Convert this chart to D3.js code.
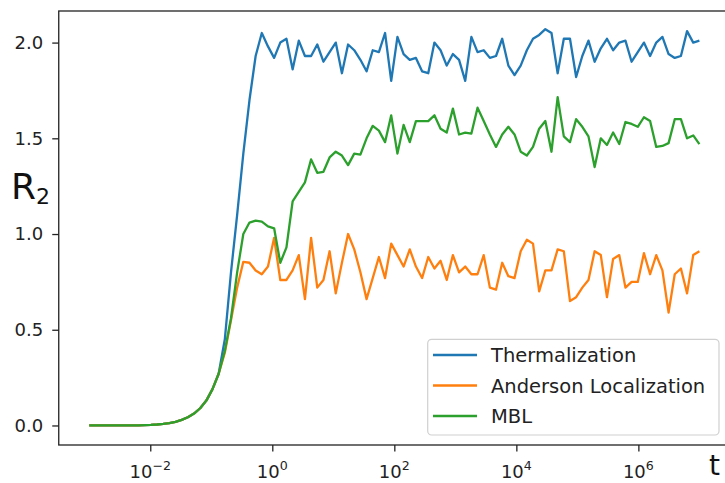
<!DOCTYPE html>
<html>
<head>
<meta charset="utf-8">
<script src="https://cdn.jsdelivr.net/npm/d3@7"></script>
<style>
  body { margin: 0; background: #fff; }
  svg { display: block; font-family: "DejaVu Sans", sans-serif; }
</style>
</head>
<body>
<div id="chart"></div>
<script>
// log10 of the sampled times (100 samples, 1e-3 .. 1e7)
const logTimes = [
  -3.000, -2.899, -2.798, -2.697, -2.596, -2.495, -2.394, -2.293, -2.192, -2.091,
  -1.990, -1.889, -1.788, -1.687, -1.586, -1.485, -1.384, -1.283, -1.182, -1.081,
  -0.980, -0.879, -0.778, -0.677, -0.576, -0.475, -0.374, -0.273, -0.172, -0.071,
  0.030, 0.131, 0.232, 0.333, 0.434, 0.535, 0.636, 0.737, 0.838, 0.939,
  1.040, 1.141, 1.242, 1.343, 1.444, 1.545, 1.646, 1.747, 1.848, 1.949,
  2.051, 2.152, 2.253, 2.354, 2.455, 2.556, 2.657, 2.758, 2.859, 2.960,
  3.061, 3.162, 3.263, 3.364, 3.465, 3.566, 3.667, 3.768, 3.869, 3.970,
  4.071, 4.172, 4.273, 4.374, 4.475, 4.576, 4.677, 4.778, 4.879, 4.980,
  5.081, 5.182, 5.283, 5.384, 5.485, 5.586, 5.687, 5.788, 5.889, 5.990,
  6.091, 6.192, 6.293, 6.394, 6.495, 6.596, 6.697, 6.798, 6.899, 7.000
];

// all three curves coincide at early times
const earlyRise = [
  0.000, 0.000, 0.000, 0.000, 0.000, 0.000, 0.000, 0.001, 0.001, 0.002,
  0.003, 0.005, 0.008, 0.012, 0.019, 0.029, 0.043, 0.062, 0.090, 0.130,
  0.190, 0.270
];

const thermalization = earlyRise.concat([
  0.45, 0.80, 1.10, 1.42, 1.70, 1.93, 2.05, 1.98,
  1.92, 2.00, 2.02, 1.86, 2.01, 1.93, 1.93, 1.99, 1.90, 1.95,
  2.00, 1.84, 1.99, 1.96, 1.91, 1.85, 1.96, 1.95, 2.05, 1.80,
  2.03, 1.94, 1.91, 1.92, 1.85, 1.84, 2.00, 1.96, 1.88, 1.94,
  1.91, 1.80, 2.03, 1.95, 1.96, 1.92, 1.93, 2.02, 1.88, 1.83,
  1.88, 1.96, 2.02, 2.04, 2.07, 2.05, 1.84, 2.02, 2.02, 1.82,
  1.93, 2.01, 1.90, 1.97, 2.02, 1.96, 2.00, 2.01, 1.90, 1.95,
  2.00, 1.93, 2.00, 2.03, 1.94, 1.92, 1.93, 2.06, 2.00, 2.01
]);

const anderson = earlyRise.concat([
  0.38, 0.55, 0.72, 0.855, 0.85, 0.81, 0.79, 0.83,
  0.98, 0.76, 0.76, 0.81, 0.89, 0.66, 0.98, 0.72, 0.76, 0.91,
  0.69, 0.85, 1.00, 0.92, 0.80, 0.66, 0.77, 0.88, 0.77, 0.95,
  0.89, 0.83, 0.92, 0.83, 0.77, 0.88, 0.82, 0.86, 0.76, 0.89,
  0.80, 0.83, 0.79, 0.79, 0.89, 0.72, 0.71, 0.85, 0.78, 0.77,
  0.91, 0.97, 0.95, 0.70, 0.81, 0.81, 0.92, 0.91, 0.65, 0.67,
  0.72, 0.76, 0.91, 0.89, 0.67, 0.87, 0.89, 0.72, 0.75, 0.75,
  0.90, 0.79, 0.89, 0.81, 0.59, 0.79, 0.82, 0.69, 0.89, 0.91
]);

const mbl = earlyRise.concat([
  0.39, 0.56, 0.80, 1.00, 1.06, 1.07, 1.065, 1.04,
  1.03, 0.85, 0.93, 1.17, 1.22, 1.27, 1.39, 1.32, 1.325, 1.40,
  1.43, 1.41, 1.36, 1.42, 1.415, 1.50, 1.565, 1.54, 1.48, 1.62,
  1.42, 1.57, 1.48, 1.59, 1.59, 1.59, 1.62, 1.55, 1.53, 1.655,
  1.52, 1.53, 1.525, 1.66, 1.59, 1.52, 1.455, 1.52, 1.56, 1.52,
  1.43, 1.41, 1.455, 1.55, 1.59, 1.43, 1.715, 1.51, 1.48, 1.60,
  1.56, 1.51, 1.35, 1.50, 1.465, 1.53, 1.47, 1.585, 1.575, 1.56,
  1.61, 1.59, 1.455, 1.46, 1.475, 1.60, 1.60, 1.50, 1.515, 1.47
]);

const seriesNames = ['Thermalization', 'Anderson Localization', 'MBL'];
const seriesColors = ['#1f77b4', '#ff7f0e', '#2ca02c'];
const yTicks = [0.0, 0.5, 1.0, 1.5, 2.0];
const xTickExponents = [-2, 0, 2, 4, 6];

const width = 725, height = 483;
const frame = { left: 58.75, top: 11, right: 729.9, bottom: 445 };

const svg = d3.select('#chart')
  .append('svg')
  .attr('width', width)
  .attr('height', height);

const x = d3.scaleLog()
  .domain([10 ** -3.5, 10 ** 7.5])
  .range([frame.left, frame.right]);

const y = d3.scaleLinear()
  .domain([-0.102, 2.165])
  .range([frame.bottom, frame.top]);

// y axis
const yAxis = svg.append('g')
  .attr('transform', `translate(${frame.left},0)`)
  .call(d3.axisLeft(y)
    .tickValues(yTicks)
    .tickFormat(d3.format('.1f'))
    .tickSize(6.5)
    .tickPadding(9));
yAxis.select('.domain').remove();
yAxis.selectAll('line').attr('stroke', '#222').attr('stroke-width', 1.3);
yAxis.selectAll('text')
  .attr('fill', '#222')
  .style('font-size', '18px')
  .style('font-family', '"DejaVu Sans", sans-serif');

// x axis, labels drawn as 10^k with a superscript
const xAxis = svg.append('g')
  .attr('transform', `translate(0,${frame.bottom})`)
  .call(d3.axisBottom(x)
    .tickValues(xTickExponents.map(e => 10 ** e))
    .tickFormat('')
    .tickSize(6.5));
xAxis.select('.domain').remove();
xAxis.selectAll('line').attr('stroke', '#222').attr('stroke-width', 1.3);

xTickExponents.forEach(e => {
  const label = svg.append('text')
    .attr('x', x(10 ** e))
    .attr('y', 478)
    .attr('text-anchor', 'middle')
    .attr('fill', '#222')
    .style('font-size', '18px');
  label.append('tspan').text('10');
  label.append('tspan')
    .attr('dy', -8)
    .style('font-size', '12.6px')
    .text(String(e).replace('-', '\u2212'));
});

// the lines
const line = d3.line()
  .x((d, i) => x(10 ** logTimes[i]))
  .y(d => y(d));

[thermalization, anderson, mbl].forEach((values, k) => {
  svg.append('path')
    .attr('fill', 'none')
    .attr('stroke', seriesColors[k])
    .attr('stroke-width', 2.3)
    .attr('stroke-linejoin', 'round')
    .attr('d', line(values));
});

// frame (right side falls outside the picture)
svg.append('rect')
  .attr('x', frame.left)
  .attr('y', frame.top)
  .attr('width', frame.right - frame.left)
  .attr('height', frame.bottom - frame.top)
  .attr('fill', 'none')
  .attr('stroke', '#222')
  .attr('stroke-width', 1.3);

// axis labels
const yLabel = svg.append('text')
  .attr('x', 11)
  .attr('y', 199)
  .attr('fill', '#111')
  .style('font-size', '36px')
  .text('R');
yLabel.append('tspan')
  .attr('dy', 5)
  .style('font-size', '22px')
  .text('2');

svg.append('text')
  .attr('x', 709)
  .attr('y', 475)
  .attr('fill', '#111')
  .style('font-size', '28px')
  .text('t');

// legend
const legend = svg.append('g');
legend.append('rect')
  .attr('x', 427.7)
  .attr('y', 339.3)
  .attr('width', 291.3)
  .attr('height', 95.7)
  .attr('rx', 4)
  .attr('fill', '#fff')
  .attr('fill-opacity', 0.8)
  .attr('stroke', '#d0d0d0')
  .attr('stroke-width', 1.2);

seriesNames.forEach((name, k) => {
  const rowY = 355 + k * 30.5;
  legend.append('line')
    .attr('x1', 433)
    .attr('x2', 477)
    .attr('y1', rowY)
    .attr('y2', rowY)
    .attr('stroke', seriesColors[k])
    .attr('stroke-width', 2.3);
  legend.append('text')
    .attr('x', 491)
    .attr('y', rowY + 7)
    .attr('fill', '#222')
    .style('font-size', '19.5px')
    .text(name);
});
</script>
</body>
</html>
